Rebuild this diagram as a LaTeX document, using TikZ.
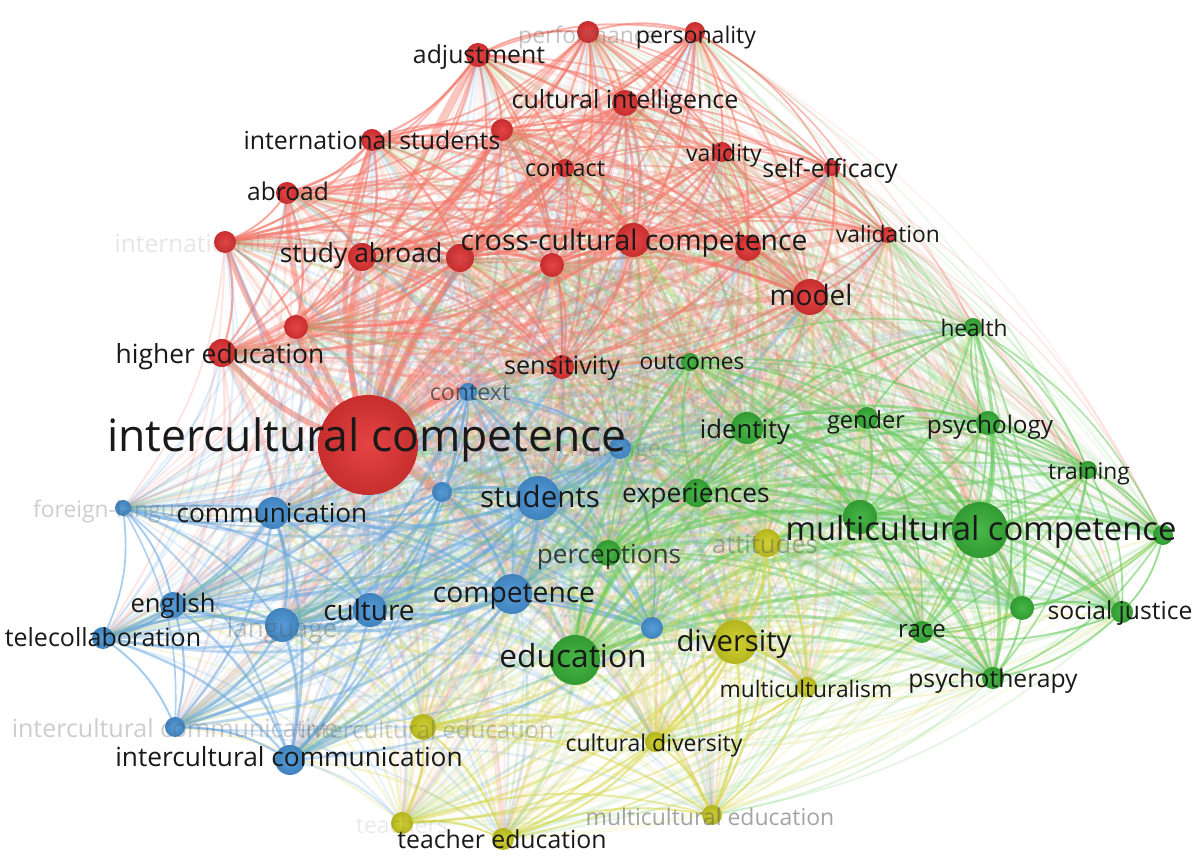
\documentclass[tikz,border=0pt]{standalone}
\usepackage{fontspec}
\setmainfont{Open Sans}
\definecolor{NR}{RGB}{226,52,52}
\definecolor{NB}{RGB}{72,148,214}
\definecolor{NG}{RGB}{56,176,56}
\definecolor{NY}{RGB}{205,205,35}
\definecolor{ER}{RGB}{245,118,105}
\definecolor{EB}{RGB}{105,168,226}
\definecolor{EG}{RGB}{100,202,90}
\definecolor{EY}{RGB}{214,214,66}
\definecolor{TXT}{RGB}{25,25,25}
\definecolor{FADE}{RGB}{90,90,90}
\tikzset{
  lab/.style={inner sep=0pt, text height=0.72em, text depth=0.2em, text=TXT},
  flab/.style={inner sep=0pt, text height=0.72em, text depth=0.2em, text=FADE},
  dot/.style={circle, inner sep=0pt, draw=none}
}
\def\nodelist{1/368/445/50/R, 2/478/55/12/R, 3/588/32/11/R, 4/695/32/10/R, 5/625/103/13/R,
6/372/140/11/R, 7/502/130/11/R, 8/565/168/9/R, 9/722/152/10/R, 10/832/168/8/R,
11/287/193/11/R, 12/225/242/11/R, 13/362/257/14/R, 14/460/258/14/R, 15/552/265/12/R,
16/633/240/17/R, 17/748/248/13/R, 18/888/235/8/R, 19/810/297/18/R, 20/296/327/12/R,
21/222/353/14/R, 22/562/367/12/R,
23/468/392/9/B, 24/620/448/11/B, 25/442/492/10/B, 26/538/498/22/B, 27/273/513/16/B,
28/123/508/8/B, 29/512/594/20/B, 30/370/610/17/B, 31/173/605/13/B, 32/103/638/11/B,
33/282/625/17/B, 34/652/628/11/B, 35/175/727/10/B, 36/290/760/15/B,
37/575/660/25/G, 38/608/553/13/G, 39/697/493/14/G, 40/747/428/16/G, 41/690/362/9/G,
42/867/418/11/G, 43/988/423/12/G, 44/973/327/9/G, 45/1088/470/9/G, 46/860/517/17/G,
47/980/530/28/G, 48/1163/535/10/G, 49/1022/608/12/G, 50/1122/612/11/G, 51/922/632/11/G,
52/993/678/11/G,
53/767/543/14/Y, 54/735/642/22/Y, 55/807/687/10/Y, 56/423/727/13/Y, 57/655/742/10/Y,
58/402/823/11/Y, 59/503/839/11/Y, 60/712/815/10/Y}
\begin{document}
\begin{tikzpicture}[x=0.25pt,y=-0.25pt]
\fill[white] (0,0) rectangle (1200,864);
\useasboundingbox (0,0) rectangle (1200,864);
% coordinates of the nodes
\foreach \i/\x/\y/\r/\c in \nodelist {
  \coordinate (n\i) at (\x,\y);
  \expandafter\xdef\csname nr\i\endcsname{\r}
  \expandafter\xdef\csname nc\i\endcsname{\c}
  \expandafter\xdef\csname nx\i\endcsname{\x}
  \expandafter\xdef\csname ny\i\endcsname{\y}
}
% connectors
\foreach \i in {1,...,59} {
  \pgfmathtruncatemacro\s{\i+1}
  \foreach \j in {\s,...,60} {
    \edef\ci{\csname nc\i\endcsname}\edef\cj{\csname nc\j\endcsname}
    \pgfmathsetmacro\ddx{(\csname nx\j\endcsname-\csname nx\i\endcsname)/100}
    \pgfmathsetmacro\ddy{(\csname ny\j\endcsname-\csname ny\i\endcsname)/100}
    \pgfmathsetmacro\dd{100*sqrt(\ddx*\ddx+\ddy*\ddy)}
    \pgfmathsetmacro\ww{(\csname nr\i\endcsname+\csname nr\j\endcsname)/44}
    \ifx\ci\cj \def\op{0.68}\else\def\op{0.28}\fi
    \pgfmathsetmacro\oo{\op*max(0.2,1-\dd/1050)}
    \pgfmathtruncatemacro\pp{mod(\i+\j,2)}
    \ifnum\pp=0 \edef\ec{\ci}\else\edef\ec{\cj}\fi
    \draw[line width=\ww pt, draw=E\ec, draw opacity=\oo] (n\i) to[bend left=16] (n\j);
  }
}
% node circles
\foreach \i/\x/\y/\r/\c in \nodelist {
  \pgfmathsetmacro\dm{\r/2}
  \node[dot, minimum size=\dm pt, shading=radial, inner color=N\c!92!white, outer color=N\c!88!black] (d\i) at (n\i) {};
}
% faded labels
\foreach \i/\x/\y/\s/\o/\t in {
  3/588/33/23/0.35/performance,
  12/226/242/24.5/0.15/internationalization,
  14/455/254/24/0.15/impact,
  24/615/446/23/0.25/challenges,
  25/443/490/23/0.12/ethnicity,
  28/123/507/22.8/0.3/foreign-language,
  33/282/627/26/0.35/language,
  35/175/727/25/0.3/intercultural communicative,
  53/765/543/25.6/0.45/attitudes,
  56/427/728/24/0.3/intercultural education,
  58/402/823/23/0.12/teachers,
  60/710/815/23/0.55/multicultural education} {
  \pgfmathsetmacro\fs{\s/4}
  \node[flab, font=\fontsize{\fs}{\fs}\selectfont, text opacity=\o] (f\i) at (\x,\y) {\t};
}
% dark labels
\foreach \i/\x/\y/\s/\o/\t in {
  1/367/441/44.5/1/intercultural competence,
  2/479/53/24.8/1/adjustment,
  4/696/33/23.1/1/personality,
  5/625/98/25/1/cultural intelligence,
  6/372/139/24.9/1/international students,
  8/565/166/23.3/1/contact,
  9/724/151/23/1/validity,
  10/830/167/24.8/1/self-efficacy,
  11/288/190/24.5/1/abroad,
  13/361/252/26.4/1/study abroad,
  16/634/240/28.3/1/cross-cultural competence,
  18/888/232/22.8/1/validation,
  19/811/295/28/1/model,
  21/220/353/26.4/1/higher education,
  22/562/364/25.2/1/sensitivity,
  23/470/390/23.2/0.6/context,
  26/540/497/29.5/1/students,
  27/272/512/26.2/1/communication,
  29/514/592/28.2/1/competence,
  30/369/610/28/1/culture,
  31/173/602/25.6/1/english,
  32/103/636/25/1/telecollaboration,
  36/289/756/26.3/1/intercultural communication,
  37/573/657/31.7/1/education,
  38/609/553/26.2/0.8/perceptions,
  39/696/492/26.4/1/experiences,
  40/745/428/25.7/1/identity,
  41/692/359/22.7/1/outcomes,
  42/866/418/23.6/1/gender,
  43/990/423/24.3/1/psychology,
  44/974/326/22.7/1/health,
  45/1089/469/22.8/1/training,
  47/981/530/32.8/1/multicultural competence,
  50/1120/609/24.7/1/social justice,
  51/922/627/24/1/race,
  52/993/677/24.7/1/psychotherapy,
  54/734/641/29.3/1/diversity,
  55/806/687/22.8/1/multiculturalism,
  57/654/741/23/1/cultural diversity,
  59/502/838/24.8/1/teacher education} {
  \pgfmathsetmacro\fs{\s/4}
  \node[lab, font=\fontsize{\fs}{\fs}\selectfont, text opacity=\o] (l\i) at (\x,\y) {\t};
}
\end{tikzpicture}
\end{document}
